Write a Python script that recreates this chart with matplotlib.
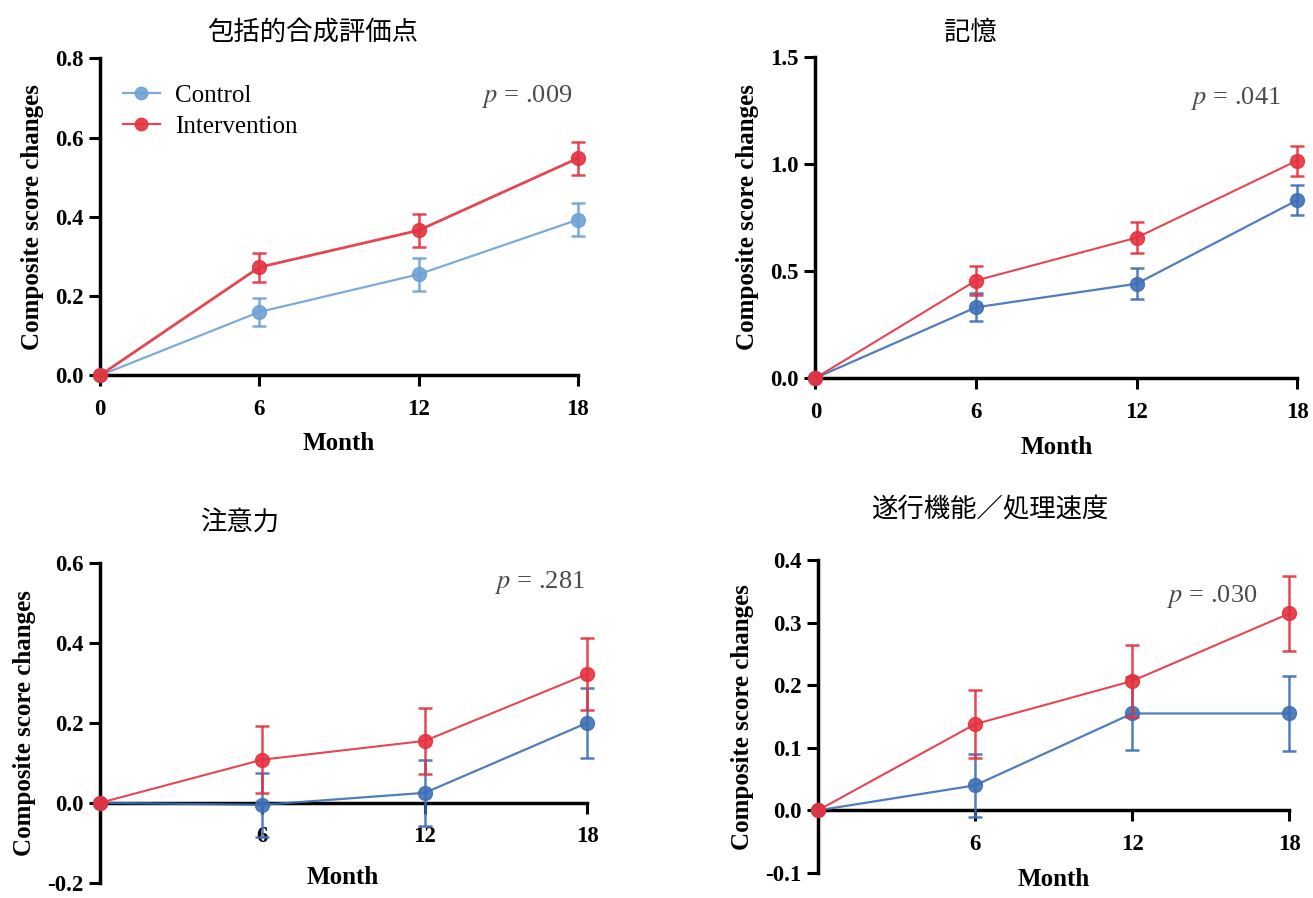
import numpy as np
import matplotlib
matplotlib.use("Agg")
import matplotlib.pyplot as plt
from matplotlib.lines import Line2D

plt.rcParams['font.family'] = ['Liberation Serif', 'DejaVu Serif']
plt.rcParams['mathtext.fontset'] = 'stix'

months = [0, 6, 12, 18]

titles = ['包括的合成評価点', '記憶', '注意力', '遂行機能／処理速度']
p_texts = ['.009', '.041', '.281', '.030']

# mean change and error for each panel
ctrl_1 = [0.0, 0.160, 0.255, 0.393]
ctrl_err_1 = [0.0, 0.035, 0.042, 0.042]
int_1 = [0.0, 0.273, 0.366, 0.548]
int_err_1 = [0.0, 0.037, 0.042, 0.042]

ctrl_2 = [0.0, 0.330, 0.440, 0.830]
ctrl_err_2 = [0.0, 0.065, 0.072, 0.070]
int_2 = [0.0, 0.455, 0.655, 1.015]
int_err_2 = [0.0, 0.068, 0.072, 0.070]

ctrl_3 = [0.0, -0.005, 0.025, 0.200]
ctrl_err_3 = [0.0, 0.080, 0.082, 0.088]
int_3 = [0.0, 0.108, 0.155, 0.322]
int_err_3 = [0.0, 0.083, 0.082, 0.090]

ctrl_4 = [0.0, 0.040, 0.155, 0.155]
ctrl_err_4 = [0.0, 0.050, 0.058, 0.060]
int_4 = [0.0, 0.138, 0.207, 0.315]
int_err_4 = [0.0, 0.055, 0.057, 0.060]

yticks_1 = [0.0, 0.2, 0.4, 0.6, 0.8]
yticks_2 = [0.0, 0.5, 1.0, 1.5]
yticks_3 = [-0.2, 0.0, 0.2, 0.4, 0.6]
yticks_4 = [-0.1, 0.0, 0.1, 0.2, 0.3, 0.4]

RED = '#e4323f'
BLUE_LIGHT = '#6ea2d6'
BLUE = '#3f6fb5'

W, H = 1313, 898
fig = plt.figure(figsize=(W / 100, H / 100), dpi=100)

# [left, bottom, width, height]
rects = [
    [0.0762, 0.582, 0.364, 0.353],
    [0.621, 0.579, 0.367, 0.358],
    [0.0762, 0.017, 0.371, 0.356],
    [0.623, 0.028, 0.359, 0.348],
]

panels = [
    (ctrl_1, ctrl_err_1, int_1, int_err_1, yticks_1, ['0.0', '0.2', '0.4', '0.6', '0.8'], BLUE_LIGHT),
    (ctrl_2, ctrl_err_2, int_2, int_err_2, yticks_2, ['0.0', '0.5', '1.0', '1.5'], BLUE),
    (ctrl_3, ctrl_err_3, int_3, int_err_3, yticks_3, ['-0.2', '0.0', '0.2', '0.4', '0.6'], BLUE),
    (ctrl_4, ctrl_err_4, int_4, int_err_4, yticks_4, ['-0.1', '0.0', '0.1', '0.2', '0.3', '0.4'], BLUE),
]

title_pos = [(313, 32), (970, 32), (240, 522), (990, 510)]
month_pos = [(339, 444), (1057, 448), (343, 877), (1054, 880)]
p_pos = [(527, 97), (1236, 98), (540, 582), (1212, 597)]

for i, (rect, pan) in enumerate(zip(rects, panels)):
    c, ce, v, ve, yt, ytl, ccol = pan
    ax = fig.add_axes(rect)
    ax.errorbar(months, c, yerr=ce, color=ccol, marker='o', ms=10, lw=1.6,
                elinewidth=1.8, capsize=5, capthick=1.8, clip_on=False, zorder=3,
                alpha=0.9)
    ax.errorbar(months, v, yerr=ve, color=RED, marker='o', ms=10, lw=2.0 if i == 0 else 1.5,
                elinewidth=1.8, capsize=5, capthick=1.8, clip_on=False, zorder=4,
                alpha=0.9)
    ax.set_xlim(0, 18)
    ax.set_ylim(yt[0], yt[-1])
    ax.set_yticks(yt)
    ax.set_yticklabels(ytl)
    if yt[0] < 0:
        ax.set_xticks([6, 12, 18])
        ax.spines['bottom'].set_position(('data', 0))
    else:
        ax.set_xticks(months)
    ax.spines['top'].set_visible(False)
    ax.spines['right'].set_visible(False)
    for s in ['left', 'bottom']:
        ax.spines[s].set_linewidth(2.5)
    ax.tick_params(width=2.2, length=8, labelsize=16.5)
    ax.tick_params(axis='x', pad=9)
    ax.tick_params(axis='y', pad=4)
    for lab in ax.get_xticklabels() + ax.get_yticklabels():
        lab.set_fontweight('bold')
    ax.set_ylabel('Composite score changes', fontsize=18, fontweight='bold', labelpad=8)
    fig.text(month_pos[i][0] / W, 1 - month_pos[i][1] / H, 'Month',
             ha='center', va='center', fontsize=18, fontweight='bold')
    fig.text(p_pos[i][0] / W, 1 - p_pos[i][1] / H, '$p$ = ' + p_texts[i],
             ha='center', va='center', fontsize=19, color='#4a4a4a')
    if i == 0:
        handles = [
            Line2D([], [], color=BLUE_LIGHT, marker='o', ms=9, lw=1.6, alpha=0.9),
            Line2D([], [], color=RED, marker='o', ms=9, lw=1.6, alpha=0.9),
        ]
        ax.legend(handles, ['Control', 'Intervention'], loc='upper left',
                  bbox_to_anchor=(0.0, 0.99), frameon=False, fontsize=18,
                  handlelength=1.5, handletextpad=0.6, labelspacing=0.35)
    fig.text(title_pos[i][0] / W, 1 - title_pos[i][1] / H, titles[i],
             ha='center', va='center', fontsize=19,
             family=['Noto Sans CJK JP', 'DejaVu Sans'])

fig.savefig('out.png', dpi=100)
